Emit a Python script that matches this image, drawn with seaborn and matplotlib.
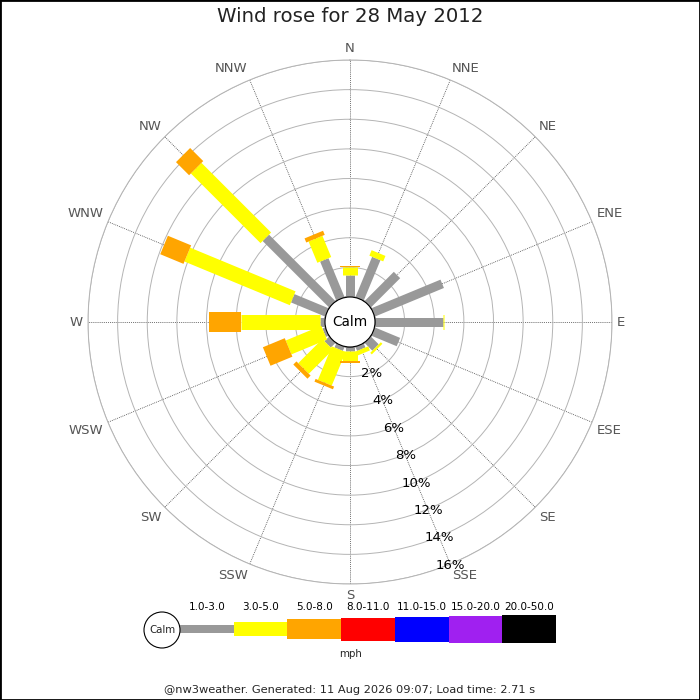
import numpy as np
import matplotlib
matplotlib.use("Agg")
import matplotlib.pyplot as plt
import seaborn as sns
from matplotlib.patches import Circle, Rectangle

# ---------------- data ----------------
directions = ["N", "NNE", "NE", "ENE", "E", "ESE", "SE", "SSE",
              "S", "SSW", "SW", "WSW", "W", "WNW", "NW", "NNW"]
# percentage of time per direction for each speed class (mph)
speed_1_3 = [1.5, 2.95, 2.8, 5.05, 4.6, 1.85, 0.75, 0.3,
             0.3, 0.3, 0.45, 0.2, 0.35, 2.5, 6.35, 2.85]
speed_3_5 = [0.5, 0.4, 0.0, 0.0, 0.08, 0.0, 0.15, 0.3,
             0.65, 2.45, 2.3, 2.6, 5.3, 7.7, 6.65, 1.55]
speed_5_8 = [0.07, 0.0, 0.0, 0.0, 0.0, 0.0, 0.0, 0.0,
             0.1, 0.2, 0.3, 1.6, 2.15, 1.7, 1.25, 0.3]
speed_labels = ["1.0-3.0", "3.0-5.0", "5.0-8.0", "8.0-11.0",
                "11.0-15.0", "15.0-20.0", "20.0-50.0"]
speed_colors = ["#999999", "#ffff00", "#ffa500", "#ff0000",
                "#0000ff", "#a020f0", "#000000"]
ring_ticks = [2, 4, 6, 8, 10, 12, 14, 16]
title = "Wind rose for 28 May 2012"
footer = "@nw3weather. Generated: 11 Aug 2026 09:07; Load time: 2.71 s"

# ---------------- style ----------------
sns.set_theme(style="white")
plt.rcParams["font.family"] = ["DejaVu Sans"]

W = 700
fig = plt.figure(figsize=(7, 7), dpi=100)
fig.patch.set_facecolor("white")

R_OUT = 262.0   # px radius of outer ring
R_CALM = 25.0   # px radius of calm circle
cx, cy = 350, 322
rmax = ring_ticks[-1]
rorigin = -rmax * R_CALM / (R_OUT - R_CALM)

ax = fig.add_axes([(cx - R_OUT) / W, (W - cy - R_OUT) / W, 2 * R_OUT / W, 2 * R_OUT / W],
                  projection="polar")
ax.set_theta_zero_location("N")
ax.set_theta_direction(-1)
ax.set_ylim(0, rmax)
ax.set_rorigin(rorigin)
ax.set_facecolor("white")

theta = np.deg2rad(np.arange(len(directions)) * 22.5)
ax.set_xticks(theta)
ax.set_xticklabels([])
ax.set_yticks(ring_ticks)
ax.set_yticklabels([])
ax.tick_params(length=0)
ax.xaxis.grid(True, color="#444444", linestyle=(0, (1, 1.3)), linewidth=0.6)
ax.yaxis.grid(True, color="#b4b4b4", linestyle="-", linewidth=0.7)
ax.spines["polar"].set_color("#b4b4b4")
ax.spines["polar"].set_linewidth(0.7)

# stacked radial bars (constant pixel width)
widths_px = [9, 15, 20]
bottom = np.zeros(len(directions))
for vals, col, wpx in zip([speed_1_3, speed_3_5, speed_5_8], speed_colors, widths_px):
    v = np.array(vals)
    top = bottom + v
    m = v > 0
    ax.vlines(theta[m], bottom[m], top[m], colors=col, linewidth=wpx * 0.72,
              capstyle="butt", zorder=3)
    bottom = top

# calm circle
ax.add_patch(Circle((0.5, 0.5), R_CALM / (2 * R_OUT), transform=ax.transAxes,
                    facecolor="white", edgecolor="black", linewidth=0.8, zorder=5,
                    clip_on=False))
ax.text(0.5, 0.5, "Calm", transform=ax.transAxes, ha="center", va="center",
        fontsize=9.8, color="black", zorder=6)

# percentage labels along SSE spoke
for r in ring_ticks:
    ax.text(np.deg2rad(157.5), r + 0.08, f"{r}%", ha="center", va="center",
            fontsize=9.5, color="black", zorder=4)

# direction labels
r_lab = rorigin + (rmax - rorigin) * 267.0 / R_OUT
for t, name in zip(theta, directions):
    s, c = np.sin(t), np.cos(t)
    ha = "left" if s > 0.3 else ("right" if s < -0.3 else "center")
    va = "bottom" if c > 0.3 else ("top" if c < -0.3 else "center")
    ax.text(t, r_lab, name, ha=ha, va=va, fontsize=9.5, color="#555555",
            clip_on=False)

# ---------------- legend / texts ----------------
lg = fig.add_axes([0, 0, 1, 1])
lg.set_xlim(0, W)
lg.set_ylim(W, 0)
lg.axis("off")

heights = [8.3, 14.3, 20, 23, 25, 27, 28]
bw = 53.7
lefts = 180 + np.arange(len(speed_labels)) * bw
lg.bar(lefts, heights, width=bw, bottom=629 - np.array(heights) / 2, align="edge",
       color=speed_colors, linewidth=0)
for x0, lab in zip(lefts, speed_labels):
    lg.text(x0 + bw / 2, 607, lab, ha="center", va="center", fontsize=7.5, color="black")
lg.add_patch(Circle((162, 630), 18, facecolor="white", edgecolor="black", linewidth=0.8))
lg.text(162, 630, "Calm", ha="center", va="center", fontsize=7.4)
lg.text(351, 654, "mph", ha="center", va="center", fontsize=7.4)
lg.text(350, 690, footer, ha="center", va="center", fontsize=8.2)

fig.text(0.5, 1 - 17 / W, title, ha="center", va="center", fontsize=14.2, color="#222222")
fig.add_artist(Rectangle((0, 0), 1, 1, transform=fig.transFigure, fill=False,
                         edgecolor="black", linewidth=2))

fig.savefig("out.png", dpi=100, facecolor="white")
